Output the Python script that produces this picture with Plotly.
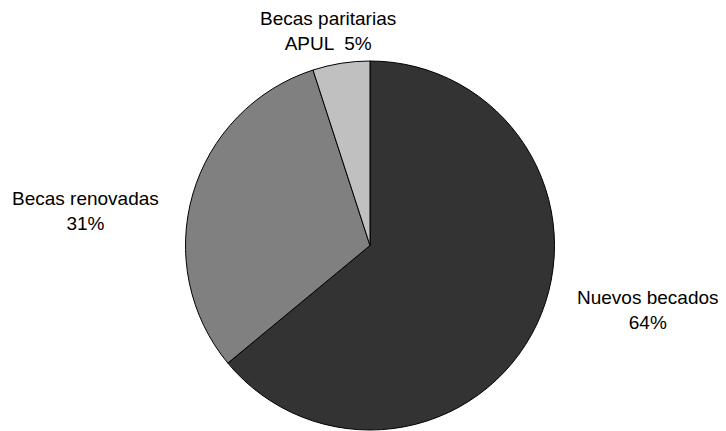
import plotly.graph_objects as go

categories = ["Nuevos becados", "Becas renovadas", "Becas paritarias APUL"]
values = [64, 31, 5]
label_lines = [["Nuevos becados", "64%"], ["Becas renovadas", "31%"], ["Becas paritarias", "APUL  5%"]]
colors = ["#333333", "#808080", "#c0c0c0"]

W, H = 726, 431
OFF = 8  # page body margin offset
cx, cy, r = 370 - OFF, 245.5 - OFF, 184.5

fig = go.Figure(go.Pie(
    labels=categories,
    values=values,
    sort=False,
    direction="clockwise",
    rotation=0,
    marker=dict(colors=colors, line=dict(color="#000000", width=1)),
    textinfo="none",
    hoverinfo="label+percent",
    showlegend=False,
    domain=dict(x=[(cx - r) / W, (cx + r) / W], y=[(H - cy - r) / H, (H - cy + r) / H]),
))

label_pos = [(648, 310), (85, 211), (328, 31)]
for lines, (px, py) in zip(label_lines, label_pos):
    fig.add_annotation(
        text="<br>".join(lines), x=(px - OFF) / W, y=1 - (py - OFF) / H, xref="paper", yref="paper",
        showarrow=False, xanchor="center", yanchor="middle", align="center",
        font=dict(family="Arial, Liberation Sans, sans-serif", size=19, color="#000000"),
    )

fig.update_layout(
    width=W, height=H, margin=dict(l=0, r=0, t=0, b=0),
    paper_bgcolor="white", plot_bgcolor="white",
)
fig.write_html("out.html")
